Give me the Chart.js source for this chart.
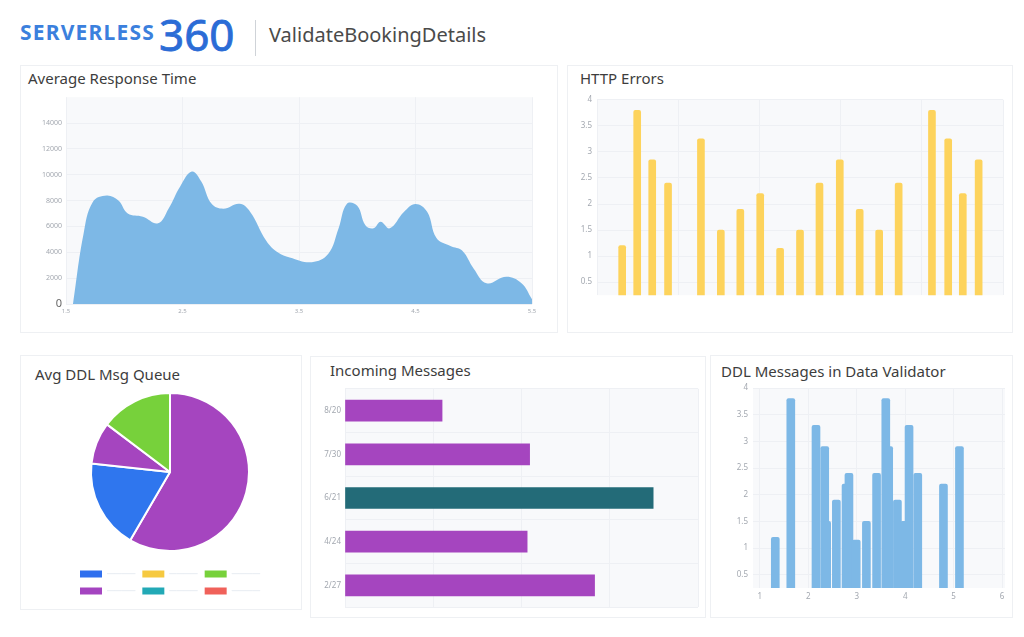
<!DOCTYPE html>
<html>
<head>
<meta charset="utf-8">
<script src="https://cdn.jsdelivr.net/npm/chart.js@4.4.0/dist/chart.umd.min.js"></script>
<style>
  body { margin: 0; background: #fff; font-family: 'Noto Sans', sans-serif; width: 1024px; height: 637px; position: relative; overflow: hidden; }
  .card { position: absolute; border: 1px solid #eef0f3; box-sizing: border-box; }
  .title { position: absolute; font-size: 15px; color: #3d3d3d; white-space: nowrap; }
  canvas { position: absolute; }
  #logo1 { position: absolute; left: 20px; top: 18px; font-size: 21px; font-weight: 700; color: #3b80dd; letter-spacing: 1.2px; }
  #logo2 { position: absolute; left: 159px; top: 4px; font-size: 44px; color: #2b6cd6; letter-spacing: 0px; -webkit-text-stroke: 0.8px #2b6cd6; }
  #divider { position: absolute; left: 255px; top: 20px; width: 1px; height: 36px; background: #cfd3d8; }
  #page { position: absolute; left: 269px; top: 21px; font-size: 20px; color: #4a4a4a; }
</style>
</head>
<body>
<div id="logo1">SERVERLESS</div>
<div id="logo2">360</div>
<div id="divider"></div>
<div id="page">ValidateBookingDetails</div>

<div class="card" style="left:20px;top:65px;width:538px;height:268px"></div>
<div class="card" style="left:567px;top:65px;width:446px;height:268px"></div>
<div class="card" style="left:20px;top:355px;width:282px;height:255px"></div>
<div class="card" style="left:310px;top:356px;width:396px;height:262px"></div>
<div class="card" style="left:710px;top:355px;width:303px;height:263px"></div>

<div class="title" style="left:28px;top:68px">Average Response Time</div>
<div class="title" style="left:580px;top:68px">HTTP Errors</div>
<div class="title" style="left:35px;top:364px">Avg DDL Msg Queue</div>
<div class="title" style="left:330px;top:360px">Incoming Messages</div>
<div class="title" style="left:721px;top:361px">DDL Messages in Data Validator</div>

<canvas id="respChart" width="530" height="230" style="left:20px;top:89px"></canvas>
<canvas id="httpChart" width="446" height="215" style="left:567px;top:90px"></canvas>
<canvas id="queueChart" width="278" height="224" style="left:19px;top:382px"></canvas>
<canvas id="msgChart" width="392" height="236" style="left:312px;top:380px"></canvas>
<canvas id="ddlChart" width="300" height="225" style="left:712px;top:378px"></canvas>

<script>
// Average Response Time
const respX = [1.56, 1.65, 1.73, 1.85, 1.95, 2.03, 2.16, 2.29, 2.38, 2.48, 2.58, 2.66, 2.75, 2.85, 2.99, 3.08, 3.22, 3.32, 3.42, 3.61,
               3.75, 3.84, 3.91, 4.0, 4.07, 4.14, 4.2, 4.28, 4.4, 4.5, 4.6, 4.68, 4.8, 4.9, 5.0, 5.11, 5.28, 5.41, 5.5];
const respY = [0, 5400, 7900, 8400, 8000, 7000, 6750, 6240, 7370, 9100, 10250, 9500, 7750, 7370, 7750, 7140, 4880, 3980, 3600, 3230,
               3860, 5860, 7740, 7600, 6100, 5860, 6370, 5860, 7120, 7740, 7140, 5110, 4490, 4130, 2730, 1600, 2100, 1600, 370];
const respXTicks = [1.5, 2.5, 3.5, 4.5, 5.5];
const respYTicks = [0, 2000, 4000, 6000, 8000, 10000, 12000, 14000];

// HTTP Errors
const httpX = [6.2, 9.9, 13.6, 17.5, 25.6, 30.5, 35.3, 40.2, 45.1, 50.0, 54.8, 59.8, 64.7, 69.5, 74.3, 82.5, 86.5, 90.1, 94.0];
const httpY = [1.2, 3.8, 2.85, 2.4, 3.25, 1.5, 1.9, 2.2, 1.15, 1.5, 2.4, 2.85, 1.9, 1.5, 2.4, 3.8, 3.25, 2.2, 2.85];
const errTicks = [0.5, 1, 1.5, 2, 2.5, 3, 3.5, 4];

// Avg DDL Msg Queue
const queueValues = [58.4, 18.3, 8.6, 14.7];
const queueLabels = ['Queue A', 'Queue B', 'Queue C', 'Queue D'];
const legendText = ['────', '────', '────', '────', '────', '────'];

// Incoming Messages
const msgLabels = ['8/20', '7/30', '6/21', '4/24', '2/27'];
const msgValues = [27.5, 52.3, 87.3, 51.6, 70.7];

// DDL Messages in Data Validator
const ddlX = [1.32, 1.64, 2.16, 2.34, 2.38, 2.58, 2.78, 2.84, 2.99, 3.20, 3.41, 3.60, 3.66, 3.84, 3.99, 4.08, 4.26, 4.79, 5.12];
const ddlY = [1.2, 3.8, 3.3, 2.9, 1.5, 1.9, 2.2, 2.4, 1.15, 1.5, 2.4, 3.8, 2.9, 1.9, 1.5, 3.3, 2.4, 2.2, 2.9];
const ddlXTicks = [1, 2, 3, 4, 5, 6];

const purple = '#a545bf', blue = '#2f76ee', green = '#77d13b', teal = '#236b78', skyBlue = '#7db8e6', yellow = '#fdd35c';
const legendColors = ['#2f6fee', '#f6c940', '#77d13b', '#a444c0', '#22a9b6', '#f0615a'];
const tickColor = '#a3a8b0', gridColor = '#eef0f4';

const plotBg = {
    id: 'plotBg',
    beforeDraw(chart, args, opts) {
        const a = chart.chartArea;
        chart.ctx.save();
        chart.ctx.fillStyle = opts.color || '#f8f9fb';
        chart.ctx.fillRect(a.left, a.top, a.width, a.height);
        chart.ctx.restore();
    }
};
const setTicks = (vals) => (scale) => { scale.ticks = vals.map(v => ({ value: v })); };
const pairs = (xs, ys) => xs.map((x, i) => ({ x: x, y: ys[i] }));
const plain = (v) => String(v);

Chart.defaults.font.family = "'Noto Sans', sans-serif";
Chart.defaults.animation = false;

new Chart(document.getElementById('respChart'), {
    type: 'line',
    data: {
        datasets: [{
            data: pairs(respX, respY),
            fill: 'origin',
            backgroundColor: skyBlue,
            borderWidth: 0,
            pointRadius: 0,
            tension: 0.4
        }]
    },
    options: {
        responsive: false,
        layout: { padding: { left: 10, right: 18, top: 5, bottom: 0 } },
        plugins: { legend: { display: false }, tooltip: { enabled: false } },
        scales: {
            x: {
                type: 'linear', min: 1.5, max: 5.5,
                afterBuildTicks: setTicks(respXTicks),
                afterFit: (s) => { s.height = 15; },
                border: { display: false },
                grid: { color: gridColor, drawTicks: false },
                ticks: { color: tickColor, font: { size: 6 }, padding: 4, callback: (v) => v.toFixed(1) }
            },
            y: {
                min: 0, max: 16000,
                afterBuildTicks: setTicks(respYTicks),
                afterFit: (s) => { s.width = 36; },
                border: { display: false },
                grid: { color: gridColor, drawTicks: false },
                ticks: {
                    padding: 4,
                    callback: plain,
                    color: (c) => c.tick && c.tick.value === 0 ? '#666' : tickColor,
                    font: (c) => ({ size: c.tick && c.tick.value === 0 ? 11 : 7 })
                }
            }
        }
    },
    plugins: [plotBg]
});

function barOptions(xMin, xMax, xTicks, yWidth, xHeight, pad) {
    return {
        responsive: false,
        layout: { padding: pad },
        plugins: { legend: { display: false }, tooltip: { enabled: false } },
        scales: {
            x: {
                type: 'linear', min: xMin, max: xMax, offset: false,
                afterBuildTicks: xTicks ? setTicks(xTicks) : undefined,
                afterFit: (s) => { s.height = xHeight; },
                border: { display: false },
                grid: { color: gridColor, drawTicks: false, offset: false },
                ticks: { display: !!xTicks, color: tickColor, font: { size: 8 }, padding: 4, stepSize: 20, callback: plain }
            },
            y: {
                min: 0.25, max: 4,
                afterBuildTicks: setTicks(errTicks),
                afterFit: (s) => { s.width = yWidth; },
                border: { display: false },
                grid: { color: gridColor, drawTicks: false },
                ticks: { color: tickColor, font: { size: 8 }, padding: 5, callback: plain }
            }
        }
    };
}

new Chart(document.getElementById('httpChart'), {
    type: 'bar',
    data: {
        datasets: [{
            data: pairs(httpX, httpY),
            backgroundColor: yellow,
            barThickness: 7,
            borderRadius: 2
        }]
    },
    options: barOptions(0, 100, null, 26, 0, { left: 4, right: 10, top: 9, bottom: 7 }),
    plugins: [plotBg]
});

new Chart(document.getElementById('ddlChart'), {
    type: 'bar',
    data: {
        datasets: [{
            data: pairs(ddlX, ddlY),
            backgroundColor: skyBlue,
            barThickness: 8,
            borderRadius: 2
        }]
    },
    options: barOptions(0.86, 6.06, ddlXTicks, 37, 15, { left: 4, right: 7, top: 10, bottom: 0 }),
    plugins: [plotBg]
});

new Chart(document.getElementById('queueChart'), {
    type: 'pie',
    data: {
        labels: queueLabels,
        datasets: [{
            data: queueValues,
            backgroundColor: [purple, blue, purple, green],
            borderColor: '#fff',
            borderWidth: 2,
            radius: 79
        }]
    },
    options: {
        responsive: false,
        layout: { padding: { left: 24, right: 0, top: 0, bottom: 0 } },
        plugins: {
            tooltip: { enabled: false },
            legend: {
                position: 'bottom',
                labels: {
                    boxWidth: 22, boxHeight: 7, padding: 7,
                    color: '#e1e7ef', font: { size: 10 },
                    generateLabels: () => legendText.map((t, i) => ({
                        text: t, fillStyle: legendColors[i], strokeStyle: legendColors[i],
                        fontColor: '#e1e7ef', lineWidth: 0, hidden: false, index: i
                    }))
                }
            }
        }
    }
});

new Chart(document.getElementById('msgChart'), {
    type: 'bar',
    data: {
        labels: msgLabels,
        datasets: [{
            data: msgValues,
            backgroundColor: msgLabels.map(l => l === '6/21' ? teal : purple),
            barThickness: 21
        }]
    },
    options: {
        indexAxis: 'y',
        responsive: false,
        layout: { padding: { left: 3, right: 6, top: 7, bottom: 3 } },
        plugins: { legend: { display: false }, tooltip: { enabled: false } },
        scales: {
            x: {
                min: 0, max: 100,
                afterFit: (s) => { s.height = 0; },
                border: { display: false },
                grid: { color: gridColor, drawTicks: false },
                ticks: { display: false, stepSize: 25 }
            },
            y: {
                afterFit: (s) => { s.width = 30; },
                border: { display: false },
                grid: { color: gridColor, drawTicks: false },
                ticks: { color: tickColor, font: { size: 8 }, padding: 4 }
            }
        }
    },
    plugins: [plotBg]
});
</script>
</body>
</html>
